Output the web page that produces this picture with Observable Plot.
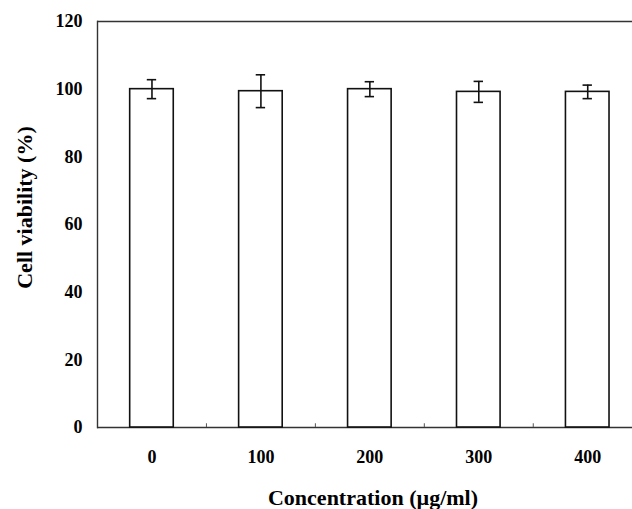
<!DOCTYPE html>
<html><head><meta charset="utf-8">
<script src="https://cdn.jsdelivr.net/npm/d3@7"></script>
<script src="https://cdn.jsdelivr.net/npm/@observablehq/plot@0.6"></script>
<style>html,body{margin:0;padding:0;background:#fff} svg{display:block}</style>
</head><body><div id="chart"></div>
<script>
const concentrations = [0, 100, 200, 300, 400];
const viability = [100.0, 99.4, 100.0, 99.2, 99.2];
const errors = [2.8, 4.85, 2.2, 3.1, 2.0];
const yTicks = [0, 20, 40, 60, 80, 100, 120];
const gapTicks = [50, 150, 250, 350];
const xTitle = "Concentration (µg/ml)";
const yTitle = "Cell viability (%)";

const data = concentrations.map((c, i) => ({conc: c, mean: viability[i], err: errors[i]}));
const halfBar = 20;
const halfCap = 4.3;

const chart = Plot.plot({
  width: 632,
  height: 509,
  marginLeft: 97,
  marginRight: 0,
  marginTop: 21,
  marginBottom: 82,
  style: {fontFamily: "'Liberation Serif', 'Times New Roman', serif", fontWeight: "bold", fontSize: "18px", color: "#000", background: "#fff"},
  x: {type: "linear", domain: [-50, 450], range: [97, 641.7]},
  y: {domain: [0, 120]},
  marks: [
    Plot.ruleY([0, 120], {stroke: "#333", strokeWidth: 1.4}),
    Plot.frame({anchor: "left", stroke: "#333", strokeWidth: 1.4}),
    Plot.ruleX(gapTicks, {x: d => d, y1: 0, y2: 1.1, stroke: "#555", strokeWidth: 1}),
    Plot.rectY(data, {x1: d => d.conc - halfBar, x2: d => d.conc + halfBar, y1: 0, y2: "mean", fill: "white", stroke: "#111", strokeWidth: 1.6}),
    Plot.ruleX(data, {x: "conc", y1: d => d.mean - d.err, y2: d => d.mean + d.err, stroke: "#111", strokeWidth: 1.6}),
    Plot.ruleY(data, {x1: d => d.conc - halfCap, x2: d => d.conc + halfCap, y: d => d.mean + d.err, stroke: "#111", strokeWidth: 1.6}),
    Plot.ruleY(data, {x1: d => d.conc - halfCap, x2: d => d.conc + halfCap, y: d => d.mean - d.err, stroke: "#111", strokeWidth: 1.6}),
    Plot.axisY({ticks: yTicks, tickSize: 0, tickPadding: 15, label: null, fontSize: 18}),
    Plot.axisX({ticks: concentrations, tickSize: 0, tickPadding: 23, label: null, fontSize: 18}),
    Plot.text([xTitle], {frameAnchor: "bottom", text: d => d, textAnchor: "middle", dx: 8, dy: 70, lineAnchor: "middle", fontSize: 22, fontWeight: "bold"}),
    Plot.text([yTitle], {frameAnchor: "left", text: d => d, textAnchor: "middle", rotate: -90, dx: -73, dy: -17, lineAnchor: "middle", fontSize: 22, fontWeight: "bold"})
  ]
});
document.getElementById("chart").append(chart);
</script>
</body></html>
